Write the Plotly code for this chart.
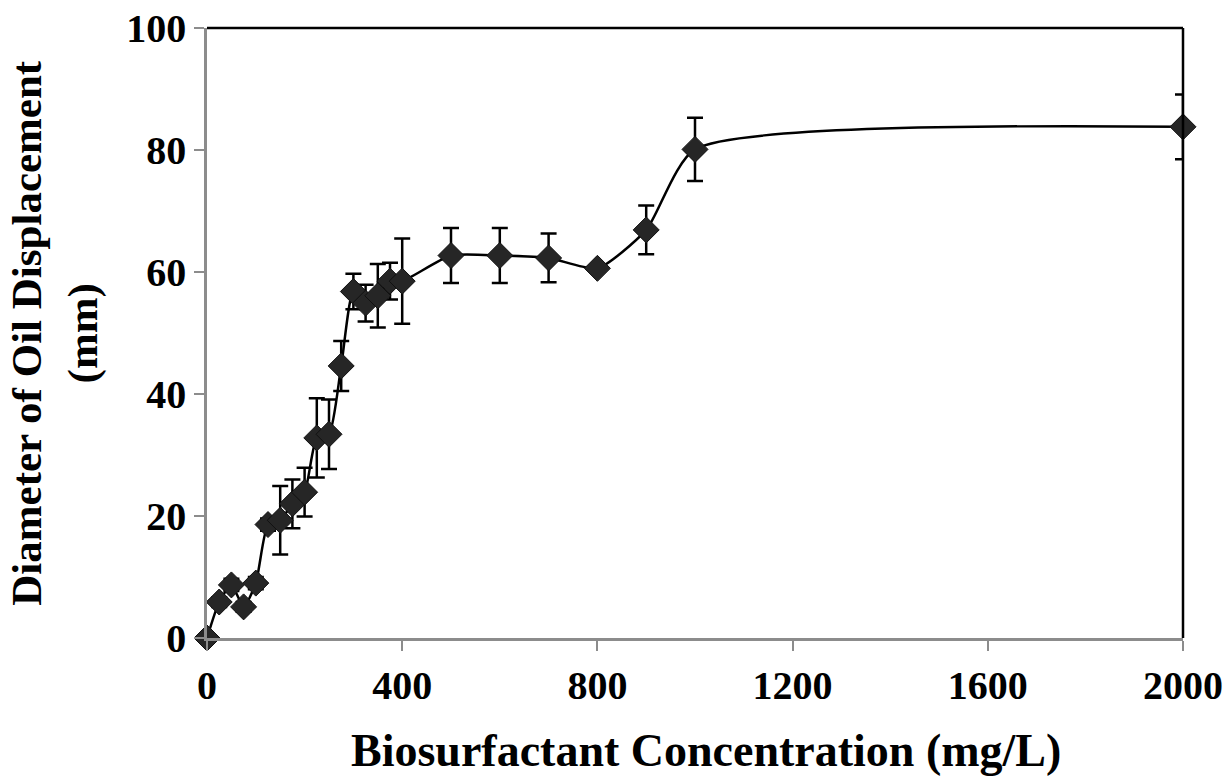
import plotly.graph_objects as go

conc = [0, 25, 50, 75, 100, 125, 150, 175, 200, 225, 250, 275, 300, 325, 350, 375, 400,
        500, 600, 700, 800, 900, 1000, 2000]
diam = [0, 5.9, 8.7, 5.1, 9.0, 18.6, 19.3, 22.0, 23.9, 32.8, 33.4, 44.6, 56.8, 54.9, 56.1, 58.5, 58.5,
        62.7, 62.7, 62.3, 60.6, 66.9, 80.1, 83.8]
err = [0, 0.8, 1.0, 0.8, 1.0, 1.0, 5.6, 4.0, 4.0, 6.5, 5.7, 4.1, 2.9, 3.0, 5.2, 3.0, 7.0,
       4.5, 4.5, 4.0, 0.5, 4.0, 5.2, 5.3]

x_ticks = [0, 400, 800, 1200, 1600, 2000]
y_ticks = [0, 20, 40, 60, 80, 100]

FONT = "Liberation Serif"

fig = go.Figure()
fig.add_trace(go.Scatter(
    x=conc, y=diam, mode="lines+markers",
    line=dict(color="black", width=2.5, shape="spline", smoothing=0.6),
    marker=dict(symbol="diamond", size=20, color="#262626", line=dict(color="#111111", width=1)),
    error_y=dict(type="data", array=err, visible=True, color="black", thickness=2.5, width=8),
    cliponaxis=False, showlegend=False,
))

fig.update_layout(
    width=1229, height=777,
    margin=dict(l=207, r=46, t=28, b=139, autoexpand=False),
    paper_bgcolor="white", plot_bgcolor="white",
    font=dict(family=FONT, color="black"),
    xaxis=dict(range=[0, 2000], tickvals=x_ticks, ticks="outside", ticklen=10, tickwidth=2,
               tickcolor="#8c8c8c", showline=True, linecolor="#8c8c8c", linewidth=2.5,
               showgrid=False, zeroline=False, automargin=False,
               tickfont=dict(family=FONT, size=40, color="black", weight="bold")),
    yaxis=dict(range=[0, 100], tickvals=y_ticks, ticks="outside", ticklen=10, tickwidth=2,
               tickcolor="#8c8c8c", showline=True, linecolor="#8c8c8c", linewidth=2.5,
               showgrid=False, zeroline=False, automargin=False,
               tickfont=dict(family=FONT, size=40, color="black", weight="bold")),
    shapes=[
        dict(type="line", xref="paper", yref="paper", x0=0, x1=1, y0=1, y1=1,
             line=dict(color="black", width=2.5)),
        dict(type="line", xref="paper", yref="paper", x0=1, x1=1, y0=0, y1=1,
             line=dict(color="black", width=2.5)),
    ],
    annotations=[
        dict(text="<b>Biosurfactant Concentration (mg/L)</b>", xref="paper", yref="paper",
             x=0.511, y=-0.184, xanchor="center", yanchor="middle", showarrow=False,
             font=dict(family=FONT, size=46, color="black")),
        dict(text="<b>Diameter of Oil Displacement<br>(mm)</b>", xref="paper", yref="paper",
             x=-0.156, y=0.5, xanchor="center", yanchor="middle", showarrow=False, textangle=-90,
             font=dict(family=FONT, size=43, color="black")),
    ],
)

fig.write_html("out.html")
